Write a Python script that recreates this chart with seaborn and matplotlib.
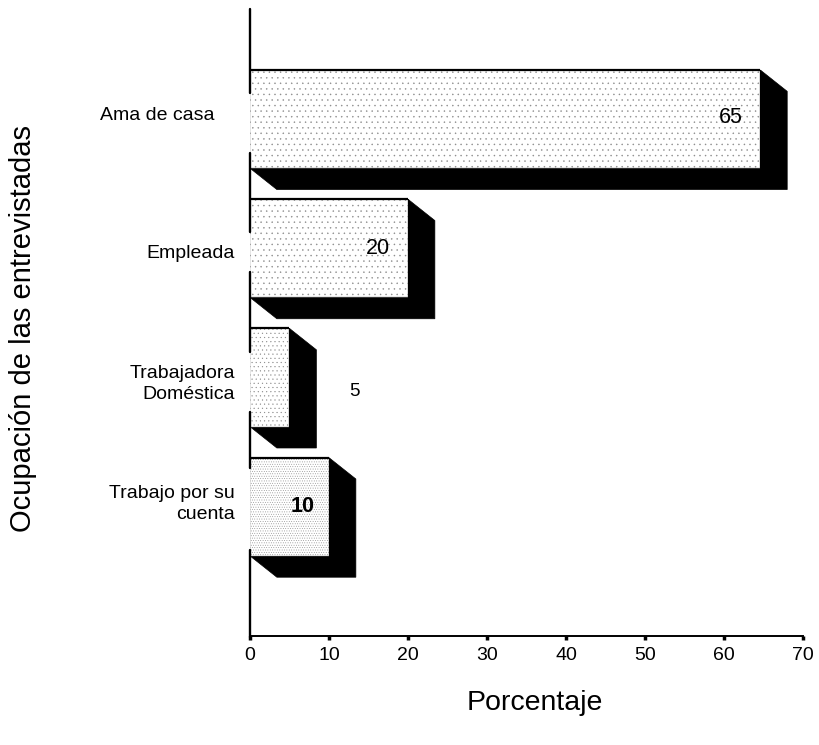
import matplotlib
matplotlib.use('Agg')
import pandas as pd
import matplotlib.pyplot as plt
import seaborn as sns
from matplotlib.lines import Line2D
from matplotlib.patches import Polygon

categorias = ['Ama de casa', 'Empleada', 'Trabajadora\nDoméstica', 'Trabajo por su\ncuenta']
porcentajes = [64.6, 20, 5, 10]
etiquetas = ['65', '20', '5', '10']
ticks_x = [0, 10, 20, 30, 40, 50, 60, 70]

# where the numbers sit, they are not at the bar ends in the original
etiqueta_x = [60.9, 16.2, 13.2, 6.6]
etiqueta_y = [-0.01, 0.0, 0.11, 0.0]
etiqueta_size = [15.5, 15.5, 13.5, 15.5]
etiqueta_peso = ['normal', 'normal', 'normal', 'bold']
# category label shifts in pixels
cat_dx = [-35, -15, -15, -15]
cat_dy = [4, -5, -6, 3]
tramas = ['...', '...', '....', '.......']
# the scan loses the y axis in the middle of each bar (pixels from top)
eje_tramos = [(9, 93), (153, 232), (272, 352), (412, 468), (550, 637)]

sns.set_theme(style='white')
plt.rcParams['font.family'] = ['Liberation Sans', 'DejaVu Sans']
plt.rcParams['hatch.linewidth'] = 0.3

df = pd.DataFrame({'ocupacion': categorias, 'porcentaje': porcentajes})

fig = plt.figure(figsize=(8.2, 7.45), dpi=100)
ax = fig.add_axes([250 / 820, 1 - 636 / 745, 553 / 820, 628 / 745])

sns.barplot(data=df, y='ocupacion', x='porcentaje', color='white', saturation=1,
            width=0.76, edgecolor='#8a8a8a', linewidth=0.3, ax=ax, zorder=3)

ax.set_xlim(0, 70)
ax.set_ylim(4.0, -0.86)

# black 3d side of the bars
dx, dy = 3.4, 0.165
for bar, trama in zip(ax.patches, tramas):
    x0, y0 = bar.get_x(), bar.get_y()
    w, h = bar.get_width(), bar.get_height()
    x1, y1 = x0 + w, y0 + h
    bar.set_hatch(trama)
    ax.add_patch(Polygon([(x1, y0), (x1 + dx, y0 + dy), (x1 + dx, y1 + dy),
                          (x0 + dx, y1 + dy), (x0, y1), (x1, y1)],
                         closed=True, facecolor='black', edgecolor='black',
                         linewidth=0.5, zorder=2))
    ax.plot([x0, x1], [y0, y0], color='black', lw=1.6, zorder=4, solid_capstyle='butt')
    ax.plot([x1, x1], [y0, y1], color='black', lw=0.8, zorder=4)

for i, txt in enumerate(etiquetas):
    ax.text(etiqueta_x[i], i + etiqueta_y[i], txt, ha='center', va='center',
            fontsize=etiqueta_size[i], fontweight=etiqueta_peso[i], color='black', zorder=5)

for i, cat in enumerate(categorias):
    ax.annotate(cat, xy=(0, i), xytext=(cat_dx[i], cat_dy[i]), textcoords='offset pixels',
                ha='right', va='center', multialignment='right', fontsize=14,
                linespacing=1.3, color='black', annotation_clip=False)

sns.despine(ax=ax, left=True)
ax.spines['bottom'].set_linewidth(1.4)
ax.spines['bottom'].set_color('black')
for ini, fin in eje_tramos:
    fig.add_artist(Line2D([250 / 820, 250 / 820], [1 - ini / 745, 1 - fin / 745],
                          color='black', lw=1.7))

ax.set_xticks(ticks_x)
ax.set_xticklabels([str(t) for t in ticks_x])
ax.tick_params(axis='x', bottom=True, length=3, width=2.5, pad=5, labelsize=14, colors='black')
ax.set_yticks(range(len(categorias)))
ax.set_yticklabels([])
ax.tick_params(axis='y', left=False)

ax.set_xlabel('')
ax.set_ylabel('')
fig.text(535 / 820, 1 - 703 / 745, 'Porcentaje', fontsize=20.5, ha='center', va='center', color='black')
fig.text(23 / 820, 1 - 329 / 745, 'Ocupación de las entrevistadas', fontsize=21,
         rotation=90, ha='center', va='center', color='black')

fig.savefig('out.png', dpi=100, facecolor='white')
